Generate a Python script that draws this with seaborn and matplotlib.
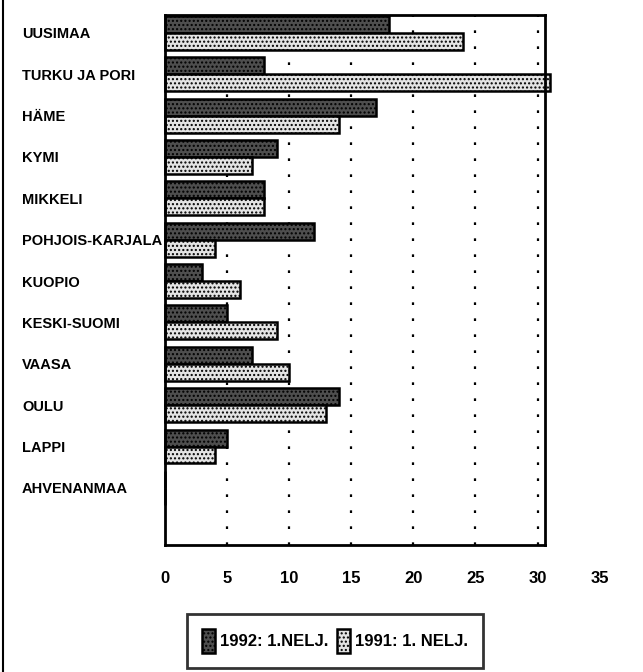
import matplotlib
matplotlib.use("Agg")
import matplotlib.pyplot as plt
import matplotlib.lines as mlines
import seaborn as sns
import pandas as pd

regions = ['UUSIMAA', 'TURKU JA PORI', 'HÄME', 'KYMI', 'MIKKELI', 'POHJOIS-KARJALA',
           'KUOPIO', 'KESKI-SUOMI', 'VAASA', 'OULU', 'LAPPI', 'AHVENANMAA']
v1992 = [18, 8, 17, 9, 8, 12, 3, 5, 7, 14, 5, 0]
v1991 = [24, 31, 14, 7, 8, 4, 6, 9, 10, 13, 4, 0]
series = ['1992: 1.NELJ.', '1991: 1. NELJ.']
xticks = [0, 5, 10, 15, 20, 25, 30, 35]

df = pd.DataFrame({
    'alue': regions * 2,
    'arvo': v1992 + v1991,
    'jakso': [series[0]] * len(regions) + [series[1]] * len(regions),
})

sns.set_style('white')
plt.rcParams['font.family'] = ['Liberation Sans', 'DejaVu Sans']
plt.rcParams['font.stretch'] = 'condensed'
plt.rcParams['text.color'] = 'black'
plt.rcParams['xtick.color'] = 'black'
plt.rcParams['ytick.color'] = 'black'
plt.rcParams['hatch.linewidth'] = 1.0

fig, ax = plt.subplots(figsize=(6.43, 6.72), dpi=100)
fig.subplots_adjust(left=165/643, right=545/643, top=1-15/672, bottom=1-545/672)

sns.barplot(data=df, y='alue', x='arvo', hue='jakso', orient='h',
            palette=['#4e4e4e', '#e4e4e4'], edgecolor='black', linewidth=1.8,
            width=0.82, ax=ax, legend=False)

# dotted texture like the old printout
for cont in ax.containers:
    for bar in cont:
        bar.set_hatch('....')
        bar.set_clip_on(False)

ax.set_xlim(0, 30.6)
ax.set_ylim(12.38, -0.43)
ax.set_xlabel('')
ax.set_ylabel('')

for x in xticks[1:-1]:
    ax.axvline(x, color='black', linestyle=(0, (1.2, 6)), linewidth=1.6, zorder=0)

tick_pad = 19
ax.set_xticks(xticks[:-1])
ax.set_xticklabels([str(t) for t in xticks[:-1]], fontsize=12, fontweight='bold')
# last tick lies outside the frame, so place it by hand at the same height
ax.text(xticks[-1], -(tick_pad * 100 / 72) / 530, str(xticks[-1]),
        transform=ax.get_xaxis_transform(), ha='center', va='top',
        fontsize=12, fontweight='bold', clip_on=False)
ax.tick_params(axis='x', length=0, pad=tick_pad)
ax.tick_params(axis='y', length=0, pad=103)
for lab in ax.get_yticklabels():
    lab.set_ha('left')
    lab.set_fontsize(10.5)
    lab.set_fontweight('bold')

for sp in ax.spines.values():
    sp.set_visible(True)
    sp.set_color('black')
    sp.set_linewidth(2)

leg = fig.legend(handles=list(ax.containers), labels=series, loc='center',
                 bbox_to_anchor=(335/643, 1-641/672), ncol=2, frameon=True,
                 fancybox=False, edgecolor='black', fontsize=12,
                 handlelength=0.8, handleheight=1.8, handletextpad=0.3,
                 columnspacing=0.5, borderpad=0.9)
leg.get_frame().set_linewidth(2)
for t in leg.get_texts():
    t.set_fontweight('bold')

# frame line at the left edge of the page
fig.add_artist(mlines.Line2D([3/643, 3/643], [0, 1], color='black', linewidth=1.5))

fig.savefig('out.png', dpi=100)
